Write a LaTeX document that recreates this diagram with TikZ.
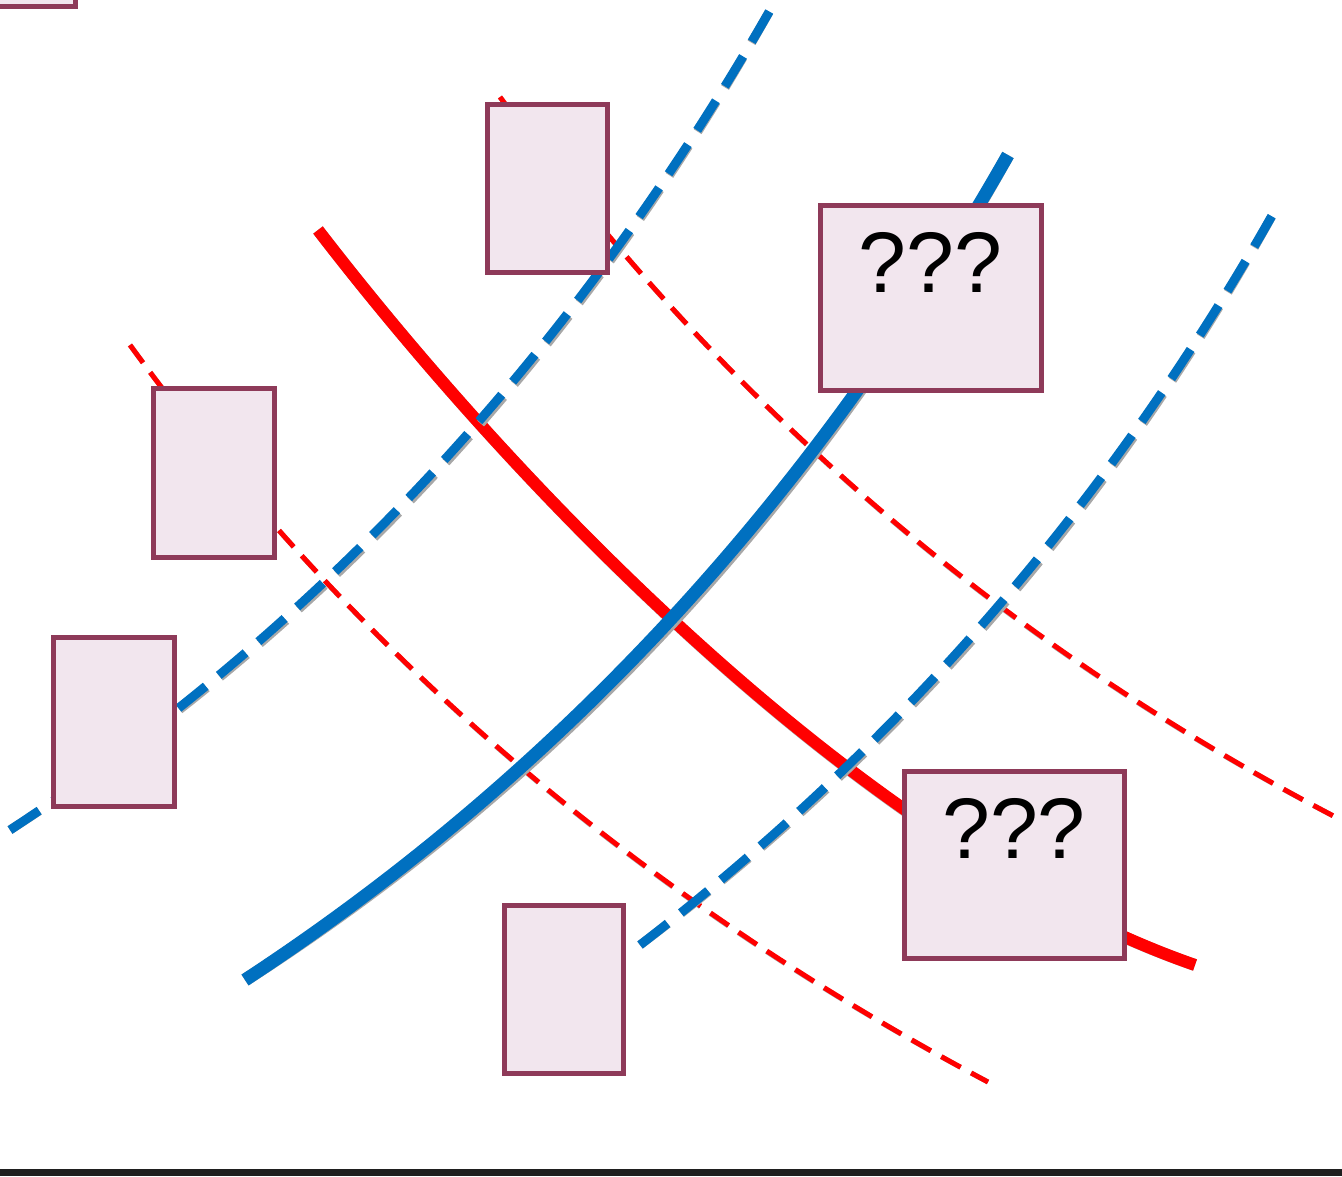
\documentclass[tikz,border=0pt]{standalone}
\usepackage{fontspec}
\setmainfont{Liberation Sans}
\definecolor{cblue}{HTML}{0070C0}
\definecolor{cred}{HTML}{FF0000}
\definecolor{boxfill}{HTML}{F2E6EE}
\definecolor{boxline}{HTML}{8E3A59}
\definecolor{shade}{HTML}{A8A8A8}
\begin{document}
\begin{tikzpicture}[x=1pt,y=-1pt,
  bluesolid/.style={draw=cblue,line width=13pt},
  redsolid/.style={draw=cred,line width=12pt},
  bluedash/.style={draw=cblue,line width=9pt,dash pattern=on 35pt off 17pt},
  reddash/.style={draw=cred,line width=5pt,dash pattern=on 22pt off 12pt},
  shadowline/.style={draw=shade,shift={(2.5,3)}},
  qbox/.style={draw=boxline,fill=boxfill,line width=5pt,rectangle,inner sep=0pt},
  qtext/.style={font=\fontsize{86}{90}\selectfont,text=black,inner sep=0pt}]
\useasboundingbox (0,0) rectangle (1342,1176);
% coordinates of curves
\coordinate (rda) at (500,97);   \coordinate (rdb) at (1345,822);
\coordinate (rdc) at (130,345);  \coordinate (rdd) at (988,1082);
\coordinate (bda) at (10,830);   \coordinate (bdb) at (773,5);
\coordinate (bdc) at (640,945);  \coordinate (bdd) at (1278,205);
\coordinate (rsa) at (318,230);  \coordinate (rsb) at (1195,965);
\coordinate (bsa) at (245,980);  \coordinate (bsb) at (1008,155);
% shadows
\path[shadowline,line width=5pt,dash pattern=on 22pt off 12pt] (rda) .. controls (723.5,404) and (1003.5,645) .. (rdb);
\path[shadowline,line width=5pt,dash pattern=on 22pt off 12pt] (rdc) .. controls (353.5,652) and (633.5,893) .. (rdd);
\path[shadowline,line width=12pt] (rsa) .. controls (518,490) and (865,850) .. (rsb);
% red dashed
\path[reddash] (rda) .. controls (723.5,404) and (1003.5,645) .. (rdb);
\path[reddash] (rdc) .. controls (353.5,652) and (633.5,893) .. (rdd);
% red solid
\path[redsolid] (rsa) .. controls (518,490) and (865,850) .. (rsb);
% blue shadows
\path[shadowline,line width=9pt,dash pattern=on 35pt off 17pt] (bda) .. controls (322.3,625) and (576.7,350) .. (bdb);
\path[shadowline,line width=9pt,dash pattern=on 35pt off 17pt] (bdc) .. controls (901.7,743.3) and (1113.3,498.3) .. (bdd);
\path[shadowline,line width=13pt] (bsa) .. controls (557.3,775) and (811.7,500) .. (bsb);
% blue dashed
\path[bluedash] (bda) .. controls (322.3,625) and (576.7,350) .. (bdb);
\path[bluedash] (bdc) .. controls (901.7,743.3) and (1113.3,498.3) .. (bdd);
% blue solid
\path[bluesolid] (bsa) .. controls (557.3,775) and (811.7,500) .. (bsb);
% boxes
\node[qbox,minimum width=120pt,minimum height=168pt] (b1) at (547,188) {};
\node[qbox,minimum width=221pt,minimum height=185pt] (b2) at (930.5,297.5) {};
\node[qtext,anchor=north] (t2) at ([yshift=-30pt]b2.north) {???};
\node[qbox,minimum width=121pt,minimum height=169pt] (b3) at (213.5,472.5) {};
\node[qbox,minimum width=121pt,minimum height=169pt] (b4) at (113.5,721.5) {};
\node[qbox,minimum width=220pt,minimum height=187pt] (b5) at (1014,864.5) {};
\node[qtext,anchor=north] (t5) at ([yshift=-30pt]b5.north) {???};
\node[qbox,minimum width=119pt,minimum height=168pt] (b6) at (563.5,989) {};
\node[qbox,minimum width=120pt,minimum height=120pt] (b7) at (15,-54) {};
% bottom rule
\fill[black!88] (0,1169) rectangle (1342,1176);
\end{tikzpicture}
\end{document}
